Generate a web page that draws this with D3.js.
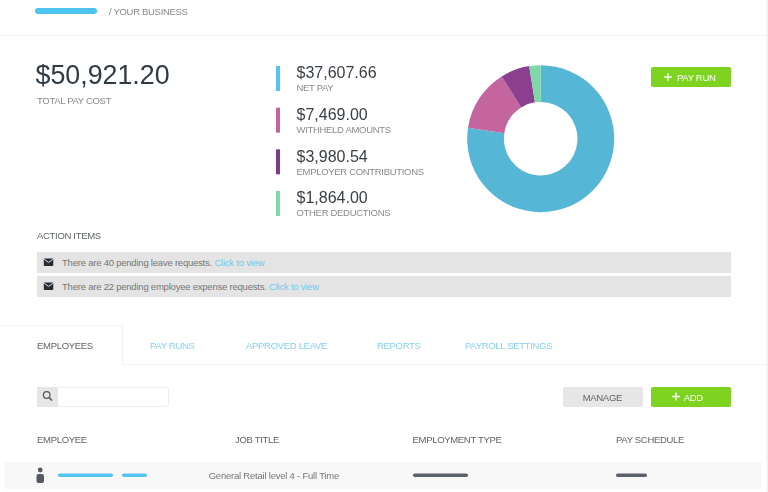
<!DOCTYPE html>
<html lang="en">
<head>
    <meta charset="UTF-8">
    <title>Your Business - Pay Summary</title>
    <style>
        html, body { margin: 0; padding: 0; background: #fff; overflow: hidden; }
        svg { display: block; filter: blur(0.35px); }
        text { font-family: "Liberation Sans", Arial, sans-serif; }
        .small { font-size: 9.5px; letter-spacing: -0.31px; }
        .sentence { font-size: 9.5px; letter-spacing: -0.22px; }
    </style>
</head>
<body>
    <div id="chart"></div>

    <script src="https://d3js.org/d3.v7.min.js"></script>
    <script>
        // Values
        const totalAmount = "$50,921.20";
        const payLabels = ["NET PAY", "WITHHELD AMOUNTS", "EMPLOYER CONTRIBUTIONS", "OTHER DEDUCTIONS"];
        const payAmounts = ["$37,607.66", "$7,469.00", "$3,980.54", "$1,864.00"];
        // slice sizes as measured on the donut, in percent
        const sliceShares = [77.4, 13.7, 6.4, 2.5];
        const sliceColors = ["#55b6d6", "#c4659f", "#8c3f8f", "#7fd8a8"];
        const barColors = ["#55c4ee", "#c4659f", "#82398a", "#80d8a6"];

        const actionItems = ["There are 40 pending leave requests.", "There are 22 pending employee expense requests."];
        const tabLabels = ["PAY RUNS", "APPROVED LEAVE", "REPORTS", "PAYROLL SETTINGS"];
        const tabX = [150, 246, 377, 465];
        const columnLabels = ["EMPLOYEE", "JOB TITLE", "EMPLOYMENT TYPE", "PAY SCHEDULE"];
        const columnX = [37, 235, 412.5, 616];

        const width = 768, height = 492;
        const green = "#7ed321", link = "#72c8ec";

        const svg = d3.select("#chart").append("svg")
            .attr("width", width)
            .attr("height", height);

        // small caps-style label
        function label(x, y, str, color, cls) {
            return svg.append("text")
                .attr("class", cls || "small")
                .attr("x", x)
                .attr("y", y)
                .attr("fill", color)
                .text(str);
        }

        function box(x, y, w, h, color, r) {
            return svg.append("rect")
                .attr("x", x)
                .attr("y", y)
                .attr("width", w)
                .attr("height", h)
                .attr("rx", r || 0)
                .attr("fill", color);
        }

        function plus(cx, cy, r) {
            svg.append("path")
                .attr("d", `M${cx - r},${cy} H${cx + r} M${cx},${cy - r} V${cy + r}`)
                .attr("fill", "none")
                .attr("stroke", "#fff")
                .attr("stroke-width", 1.4);
        }

        // Page lines
        box(0, 35, width, 1, "#f0f2f6");
        box(766.5, 0, 1.5, height, "#eef1fb");

        // Header
        box(35, 8, 62, 6, "#4fc3f0", 3);
        label(109, 14.5, "/ YOUR BUSINESS", "#8a8a8a");

        // Total
        svg.append("text")
            .attr("x", 35.5)
            .attr("y", 84)
            .attr("font-size", 26.8)
            .attr("fill", "#2f3a45")
            .text(totalAmount);
        label(37, 104.3, "TOTAL PAY COST", "#8a8a8a");

        // Legend rows
        const rowScale = d3.scaleBand()
            .domain(payLabels)
            .range([66, 66 + 41.67 * 4]);

        const rows = svg.selectAll(".pay-row")
            .data(payLabels)
            .enter().append("g")
            .attr("class", "pay-row")
            .attr("transform", d => `translate(0,${rowScale(d)})`);

        rows.append("rect")
            .attr("x", 276)
            .attr("width", 4)
            .attr("height", 25)
            .attr("fill", (d, i) => barColors[i]);

        rows.append("text")
            .attr("x", 296.5)
            .attr("y", 12.2)
            .attr("font-size", 16)
            .attr("fill", "#3a4048")
            .text((d, i) => payAmounts[i]);

        rows.append("text")
            .attr("class", "small")
            .attr("x", 296.5)
            .attr("y", 25.3)
            .attr("fill", "#8a8a8a")
            .text(d => d);

        // Donut
        const pie = d3.pie().sort(null);
        const arc = d3.arc().innerRadius(36.8).outerRadius(73.5);

        svg.append("g")
            .attr("transform", "translate(540.7,138.7)")
            .selectAll("path")
            .data(pie(sliceShares))
            .enter().append("path")
            .attr("d", arc)
            .attr("fill", (d, i) => sliceColors[i]);

        // Pay run button
        box(651, 67, 80, 20, green, 2);
        plus(668, 77, 3.8);
        label(677, 80.5, "PAY RUN", "#fff");

        // Action items
        label(37, 239, "ACTION ITEMS", "#5f6468");

        const itemScale = d3.scaleBand()
            .domain(actionItems)
            .range([252, 300]);

        const items = svg.selectAll(".action-item")
            .data(actionItems)
            .enter().append("g")
            .attr("class", "action-item")
            .attr("transform", d => `translate(37,${itemScale(d)})`);

        items.append("rect")
            .attr("width", 694)
            .attr("height", 21)
            .attr("fill", "#e4e4e4");

        // envelope icon
        items.append("rect")
            .attr("x", 6.8)
            .attr("y", 6.4)
            .attr("width", 9.5)
            .attr("height", 7.5)
            .attr("rx", 1)
            .attr("fill", "#262c33");
        items.append("path")
            .attr("d", "M7.3,7.4 L11.55,10.4 L15.8,7.4")
            .attr("fill", "none")
            .attr("stroke", "#e4e4e4")
            .attr("stroke-width", 1);

        const itemText = items.append("text")
            .attr("class", "sentence")
            .attr("x", 25)
            .attr("y", 13.5)
            .attr("fill", "#777");
        itemText.append("tspan").text(d => d + " ");
        itemText.append("tspan").attr("fill", link).text("Click to view");

        // Tabs
        box(122, 364, 646, 1, "#f0f2f6");
        box(0, 325, 122, 1, "#f3f3f3");
        box(122, 325, 1, 40, "#f0f0f0");
        label(37, 348.5, "EMPLOYEES", "#5f6468");

        svg.selectAll(".tab")
            .data(tabLabels)
            .enter().append("text")
            .attr("class", "tab small")
            .attr("x", (d, i) => tabX[i])
            .attr("y", 348.5)
            .attr("fill", "#86d0ef")
            .text(d => d);

        // Search box
        svg.append("rect")
            .attr("x", 37.5)
            .attr("y", 387.5)
            .attr("width", 131)
            .attr("height", 19)
            .attr("rx", 1.5)
            .attr("fill", "#fff")
            .attr("stroke", "#eeeeee");
        box(37, 387, 21, 20, "#e6e6e6", 1.5);
        svg.append("circle")
            .attr("cx", 46.7)
            .attr("cy", 395)
            .attr("r", 3.3)
            .attr("fill", "none")
            .attr("stroke", "#555")
            .attr("stroke-width", 1.2);
        svg.append("line")
            .attr("x1", 49)
            .attr("y1", 397.4)
            .attr("x2", 52)
            .attr("y2", 400.5)
            .attr("stroke", "#555")
            .attr("stroke-width", 1.5);

        // Buttons
        box(563, 387, 80, 20, "#e6e6e6", 2);
        label(582.7, 400.5, "MANAGE", "#5f6468");
        box(651, 387, 80, 20, green, 2);
        plus(676, 396.5, 4);
        label(683.7, 400.5, "ADD", "#fff");

        // Table head
        svg.selectAll(".column")
            .data(columnLabels)
            .enter().append("text")
            .attr("class", "column small")
            .attr("x", (d, i) => columnX[i])
            .attr("y", 442.7)
            .attr("fill", "#5f6468")
            .text(d => d);

        // Table row
        box(4.5, 462, 757, 27, "#f8f8f8");
        svg.append("circle")
            .attr("cx", 40.2)
            .attr("cy", 470)
            .attr("r", 2.4)
            .attr("fill", "#555b62");
        box(36.5, 474, 7.5, 9, "#555b62", 2);
        box(58, 473.5, 55, 3.5, "#55c4ee", 1.7);
        box(122, 473.5, 25, 3.5, "#55c4ee", 1.7);
        label(208.7, 478.5, "General Retail level 4 - Full Time", "#777", "sentence");
        box(413, 473.5, 55, 3.5, "#5b6168", 1.7);
        box(616, 473.5, 31, 3.5, "#5b6168", 1.7);
    </script>
</body>
</html>
